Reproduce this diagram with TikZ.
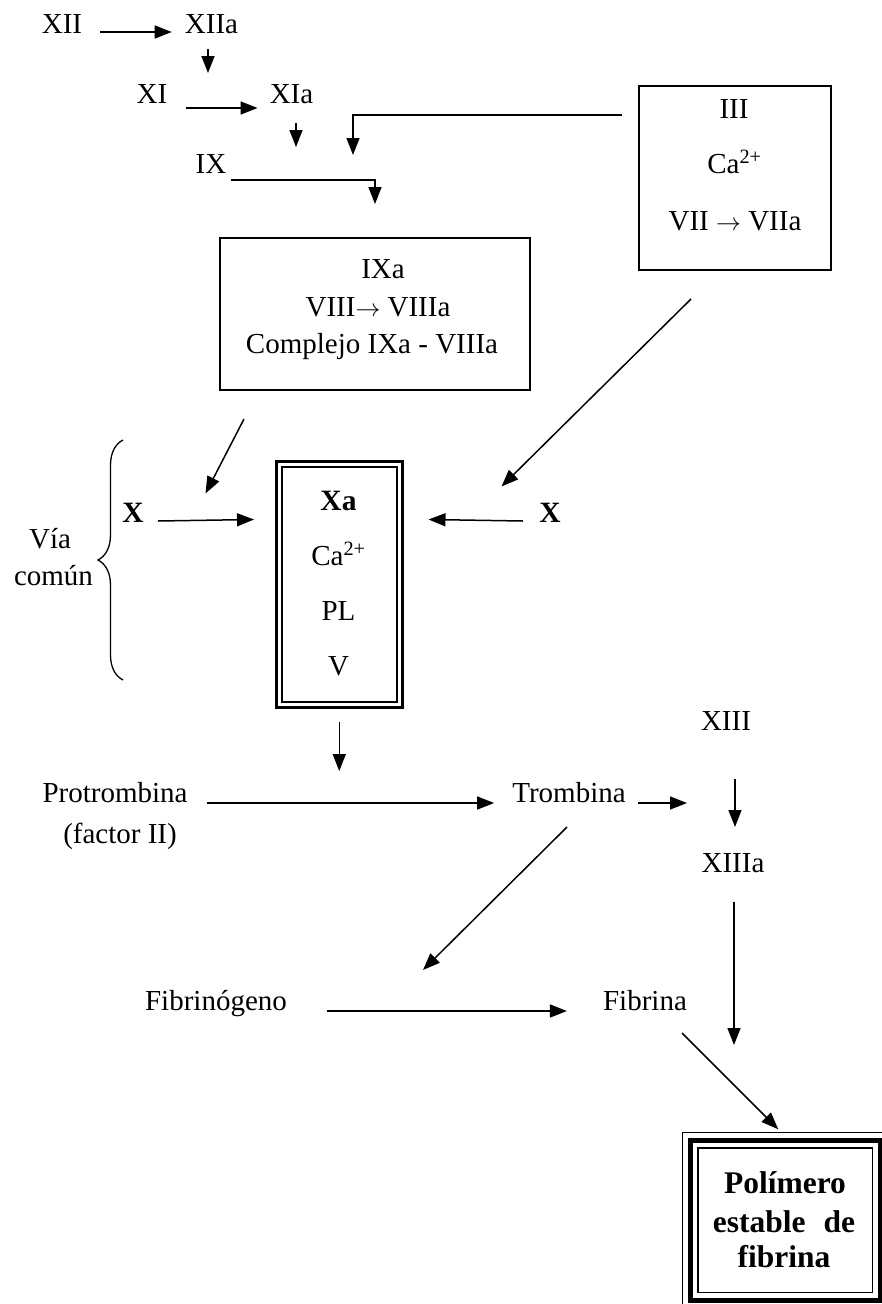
\documentclass[tikz,border=0pt]{standalone}
\usepackage{fontspec}
\setmainfont{Liberation Serif}
\usetikzlibrary{arrows.meta,calc,decorations.pathreplacing}
\begin{document}
\begin{tikzpicture}[x=1pt,y=-1pt,
  lbl/.style={anchor=base,inner sep=0pt,font=\fontsize{29}{35}\selectfont},
  blbl/.style={anchor=base,inner sep=0pt,font=\fontsize{29.5}{35}\selectfont\bfseries},
  plbl/.style={anchor=base,inner sep=0pt,font=\fontsize{31.5}{37}\selectfont\bfseries},
  arr/.style={line width=1.5pt,-{Triangle[length=17pt,width=13pt]}},
  framebox/.style={draw,line width=2pt,inner sep=0pt}]
\useasboundingbox (0,0) rectangle (881,1304);

% cascade top
\node[lbl] (XII) at (62,33) {XII};
\node[lbl] (XIIa) at (211.5,33) {XIIa};
\node[lbl] (XI) at (152,103) {XI};
\node[lbl] (XIa) at (291.5,103) {XIa};
\node[lbl] (IX) at (211,173) {IX};

\draw[arr] ([shift={(18,-1)}]XII.base east) -- ([shift={(-13,-1)}]XIIa.base west);
\draw[arr] ([shift={(-3.5,16)}]XIIa.base) -- ([shift={(-3.5,40)}]XIIa.base);
\draw[arr] ([shift={(18,5)}]XI.base east) -- ([shift={(-12,5)}]XIa.base west);
\draw[arr] ([shift={(4.5,20)}]XIa.base) -- ([shift={(4.5,44)}]XIa.base);

% IXa box
\node[framebox,minimum width=310pt,minimum height=152pt] (ixabox) at (375,314) {};
\node[lbl] (IXa) at (383,278) {IXa};
\node[lbl] (VIII) at (378,316) {VIII\ensuremath{\rightarrow} VIIIa};
\node[lbl] (Comp) at (372,353) {Complejo IXa - VIIIa};

\draw[arr] ([shift={(4,7)}]IX.base east) -| ([shift={(0,-33)}]ixabox.north);

% box III
\node[framebox,minimum width=192pt,minimum height=184pt] (boxIII) at (735,178) {};
\node[lbl] (III) at (734,118) {III};
\node[lbl] (Ca1) at (734.5,173) {Ca\textsuperscript{2+}};
\node[lbl] (VII) at (735,230) {VII \ensuremath{\rightarrow} VIIa};

\coordinate (elbS) at ($(boxIII.north west)+(-16,30)$);
\coordinate (elbE) at ($(XIa.base)+(61.5,52)$);
\draw[arr] (elbS) -| (elbE);

% Xa box
\node[draw,line width=3pt,inner sep=0pt,minimum width=125.5pt,minimum height=246pt] (xabox) at (339.25,584.5) {};
\draw[line width=2pt] ([shift={(6.5,7)}]xabox.north west) rectangle ([shift={(-6.5,-7.5)}]xabox.south east);
\node[blbl] (Xa) at (338.5,510) {Xa};
\node[lbl] (Ca2) at (338.5,565) {Ca\textsuperscript{2+}};
\node[lbl] (PL) at (338.5,620) {PL};
\node[lbl] (V) at (338.5,675) {V};

\node[blbl] (Xl) at (133,522) {X};
\node[blbl] (Xr) at (550,522) {X};
\draw[arr] ([shift={(14,-1)}]Xl.base east) -- ([shift={(-21,59.5)}]xabox.north west);
\draw[arr] ([shift={(-16,-1)}]Xr.base west) -- ([shift={(25,59.5)}]xabox.north east);
\draw[arr] ([shift={(25,28)}]ixabox.south west) -- ([shift={(-69.5,33.5)}]xabox.north west);
\draw[arr] ([shift={(-44,28)}]boxIII.south) -- ([shift={(98,26.5)}]xabox.north east);

% Via comun
\node[lbl] (via) at (50,548) {Vía};
\node[lbl] (comun) at (53.5,585) {común};
\draw[line width=1.3pt,decorate,decoration={brace,amplitude=25pt}] (123,680) -- (123,440);

% lower part
\draw[arr] ([shift={(0,13)}]xabox.south) -- ([shift={(0,62)}]xabox.south);
\node[lbl] (Pro) at (115,802) {Protrombina};
\node[lbl] (fII) at (120,843) {(factor II)};
\node[lbl] (Tro) at (569,802) {Trombina};
\node[lbl] (XIII) at (726,730) {XIII};
\node[lbl] (XIIIa) at (733,872) {XIIIa};
\node[lbl] (Fgn) at (216,1010) {Fibrinógeno};
\node[lbl] (Fbr) at (645,1010) {Fibrina};

\draw[arr] ([shift={(19.5,1)}]Pro.base east) -- ([shift={(-18,1)}]Tro.base west);
\draw[arr] ([shift={(12,1)}]Tro.base east) -- ([shift={(-39,73)}]XIII.base);
\draw[arr] ([shift={(9,49)}]XIII.base) -- ([shift={(2,-45)}]XIIIa.base);
\draw[arr] ([shift={(-2,25)}]Tro.base) -- ([shift={(207,-40)}]Fgn.base);
\draw[arr] ([shift={(40,1)}]Fgn.base east) -- ([shift={(-36,1)}]Fbr.base west);
\draw[arr] ([shift={(1,30)}]XIIIa.base) -- ([shift={(1,173)}]XIIIa.base);

% final box
\node[draw,line width=1.5pt,inner sep=0pt,minimum width=174.5pt,minimum height=144.5pt] (poly) at (785.25,1220.25) {};
\draw[line width=5.5pt] ([shift={(-7,-7)}]poly.north west) rectangle ([shift={(7,7)}]poly.south east);
\draw[line width=1.3pt] ([shift={(-14.5,-14.5)}]poly.north west) rectangle ([shift={(14.5,14.5)}]poly.south east);
\node[plbl] (P1) at (785,1193) {Polímero};
\node[plbl] (P2) at (784,1232) {estable\hspace{10pt} de};
\node[plbl] (P3) at (784,1267) {fibrina};
\draw[arr] ([shift={(37,23)}]Fbr.base) -- ([shift={(-7,-18)}]poly.north);
\end{tikzpicture}
\end{document}
